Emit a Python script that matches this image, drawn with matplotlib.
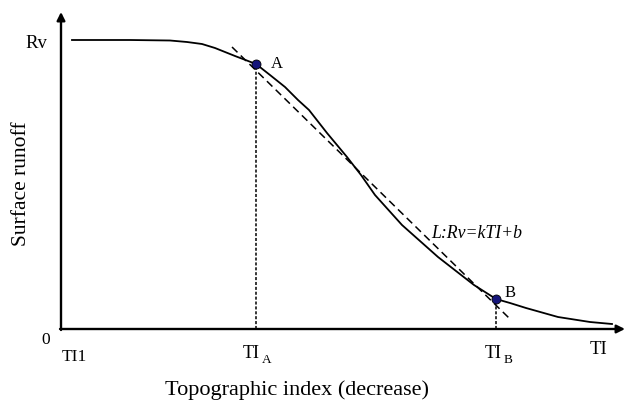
import matplotlib
matplotlib.use("Agg")
import matplotlib.pyplot as plt

# Curve (x: topographic index position, y: surface runoff)
curve_x = [11, 69, 109, 126, 141, 154, 174, 195, 209, 224, 237, 248, 266, 286,
           300, 314, 341, 377, 413, 424, 435, 449, 465, 497, 529, 551]
curve_y = [289, 289, 288.5, 287, 285, 281, 273, 265, 254, 242, 229, 219, 196, 172,
           154, 134, 104, 72, 44, 37, 30, 26, 21, 12, 7, 5]

# Tangent line L endpoints
line_x = [171, 448]
line_y = [282, 11]

# Points A and B
pt_names = ["A", "B"]
pt_x = [195, 435]
pt_y = [265, 30]

rv_level = 289
x_end = 564
y_end = 317

fig = plt.figure(figsize=(6.25, 4.01), dpi=100)
ax = fig.add_axes([0, 0, 1, 1])
ax.set_xlim(-61, 564)
ax.set_ylim(-72, 329)
ax.axis("off")

serif = ["Liberation Serif", "DejaVu Serif"]

# axes with arrows
ax.annotate("", xy=(0, y_end), xytext=(0, -1),
            arrowprops=dict(arrowstyle="-|>", color="black", lw=1.7, mutation_scale=12, shrinkA=0, shrinkB=0))
ax.annotate("", xy=(x_end, 0), xytext=(-1, 0),
            arrowprops=dict(arrowstyle="-|>", color="black", lw=1.7, mutation_scale=12, shrinkA=0, shrinkB=0))

# curve
ax.plot(curve_x, curve_y, color="black", lw=1.3, solid_joinstyle="round")
# tangent line
ax.plot(line_x, line_y, color="black", lw=1.1, linestyle=(0, (5, 3)))
# vertical dotted lines
for x, y in zip(pt_x, pt_y):
    ax.plot([x, x], [0, y], color="black", lw=1.1, linestyle=(0, (2, 1.2)))
# points
ax.scatter(pt_x, pt_y, s=42, color="#15157a", edgecolor="black", linewidth=0.6, zorder=5)
ax.text(pt_x[0] + 15, pt_y[0], pt_names[0], fontsize=12, family=serif, va="center")
ax.text(pt_x[1] + 9, pt_y[1] + 6, pt_names[1], fontsize=12, family=serif, va="center")

ax.text(416, 95, "L:Rv=kTI+b", fontsize=12.8, family=serif, style="italic", va="center", ha="center")

# tick-ish labels
ax.text(-25, rv_level - 3, "Rv", fontsize=13.5, family=serif, ha="center", va="center")
ax.text(-15, -11, "0", fontsize=12.5, family=serif, ha="center", va="center")
ax.text(1, -28, "TI1", fontsize=12.5, family=serif, ha="left", va="center")
ax.text(pt_x[0] + 4, -24, "TI", fontsize=13, family=serif, ha="right", va="center")
ax.text(pt_x[0] + 6, -31, "A", fontsize=9.5, family=serif, ha="left", va="center")
ax.text(pt_x[1] + 6, -24, "TI", fontsize=13, family=serif, ha="right", va="center")
ax.text(pt_x[1] + 8, -31, "B", fontsize=9.5, family=serif, ha="left", va="center")
ax.text(537, -20, "TI", fontsize=13.5, family=serif, ha="center", va="center")

ax.text(236, -61, "Topographic index (decrease)", fontsize=16, family=serif, ha="center", va="center")
ax.text(-40, 145, "Surface runoff", fontsize=15.5, family=serif, ha="center", va="center", rotation=90)

fig.savefig("out.png", dpi=100)
